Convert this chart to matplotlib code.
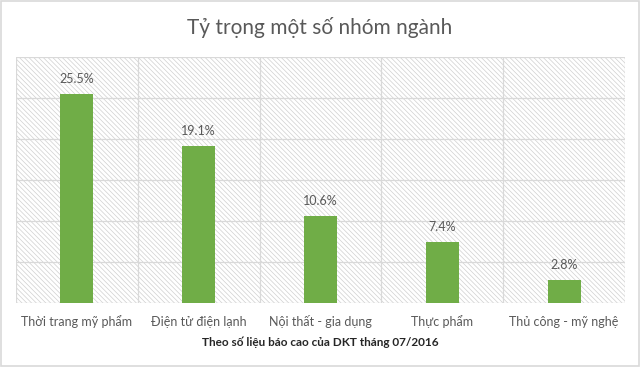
import matplotlib
matplotlib.use("Agg")
import matplotlib.pyplot as plt
from matplotlib.patches import Rectangle
import numpy as np

categories = ["Thời trang mỹ phẩm", "Điện tử điện lạnh", "Nội thất - gia dụng",
              "Thực phẩm", "Thủ công - mỹ nghệ"]
values = [25.5, 19.1, 10.6, 7.4, 2.8]
labels = ["25.5%", "19.1%", "10.6%", "7.4%", "2.8%"]

plt.rcParams["font.family"] = ["Lato", "DejaVu Sans"]
plt.rcParams["hatch.linewidth"] = 0.5
GREEN = "#70ad47"
GRID = "#d9d9d9"
TEXT = "#595959"

fig = plt.figure(figsize=(6.4, 3.67), dpi=100)
fig.patches.append(Rectangle((0.002, 0.003), 0.996, 0.994, transform=fig.transFigure,
                             fill=False, edgecolor="#d9d9d9", linewidth=1.2))
ax = fig.add_axes([16 / 640, 1 - 303 / 367, (625 - 16) / 640, (303 - 57) / 367])

x = np.arange(len(categories))
ax.set_xlim(-0.5, len(categories) - 0.5)
ax.set_ylim(0, 30)

# hatched plot-area background
ax.add_patch(Rectangle((0, 0), 1, 1, transform=ax.transAxes, facecolor="white",
                       edgecolor="#d0d0d0", hatch="\\" * 7, linewidth=0, zorder=0))

for yv in range(0, 31, 5):
    ax.axhline(yv, color=GRID, linewidth=0.9, zorder=1)
for xv in np.arange(-0.5, len(categories), 1.0):
    ax.axvline(xv, color=GRID, linewidth=0.9, zorder=1)

ax.bar(x, values, width=0.27, color=GREEN, zorder=3)
for xi, v, lab in zip(x, values, labels):
    ax.text(xi, v + 1.1, lab, ha="center", va="bottom", fontsize=9, color=TEXT, zorder=4)

ax.set_xticks(x)
ax.set_xticklabels(categories, fontsize=9, color=TEXT)
ax.set_yticks([])
ax.tick_params(axis="x", length=0, pad=9)
for s in ax.spines.values():
    s.set_visible(False)

ax.set_xlabel("Theo số liệu báo cao của DKT tháng 07/2016", fontsize=8.5,
              fontweight="bold", color="#262626", labelpad=6)
fig.text(0.5, 1 - 27 / 367, "Tỷ trọng một số nhóm ngành", ha="center", va="center",
         fontsize=15, color=TEXT)

fig.savefig("out.png", dpi=100)
